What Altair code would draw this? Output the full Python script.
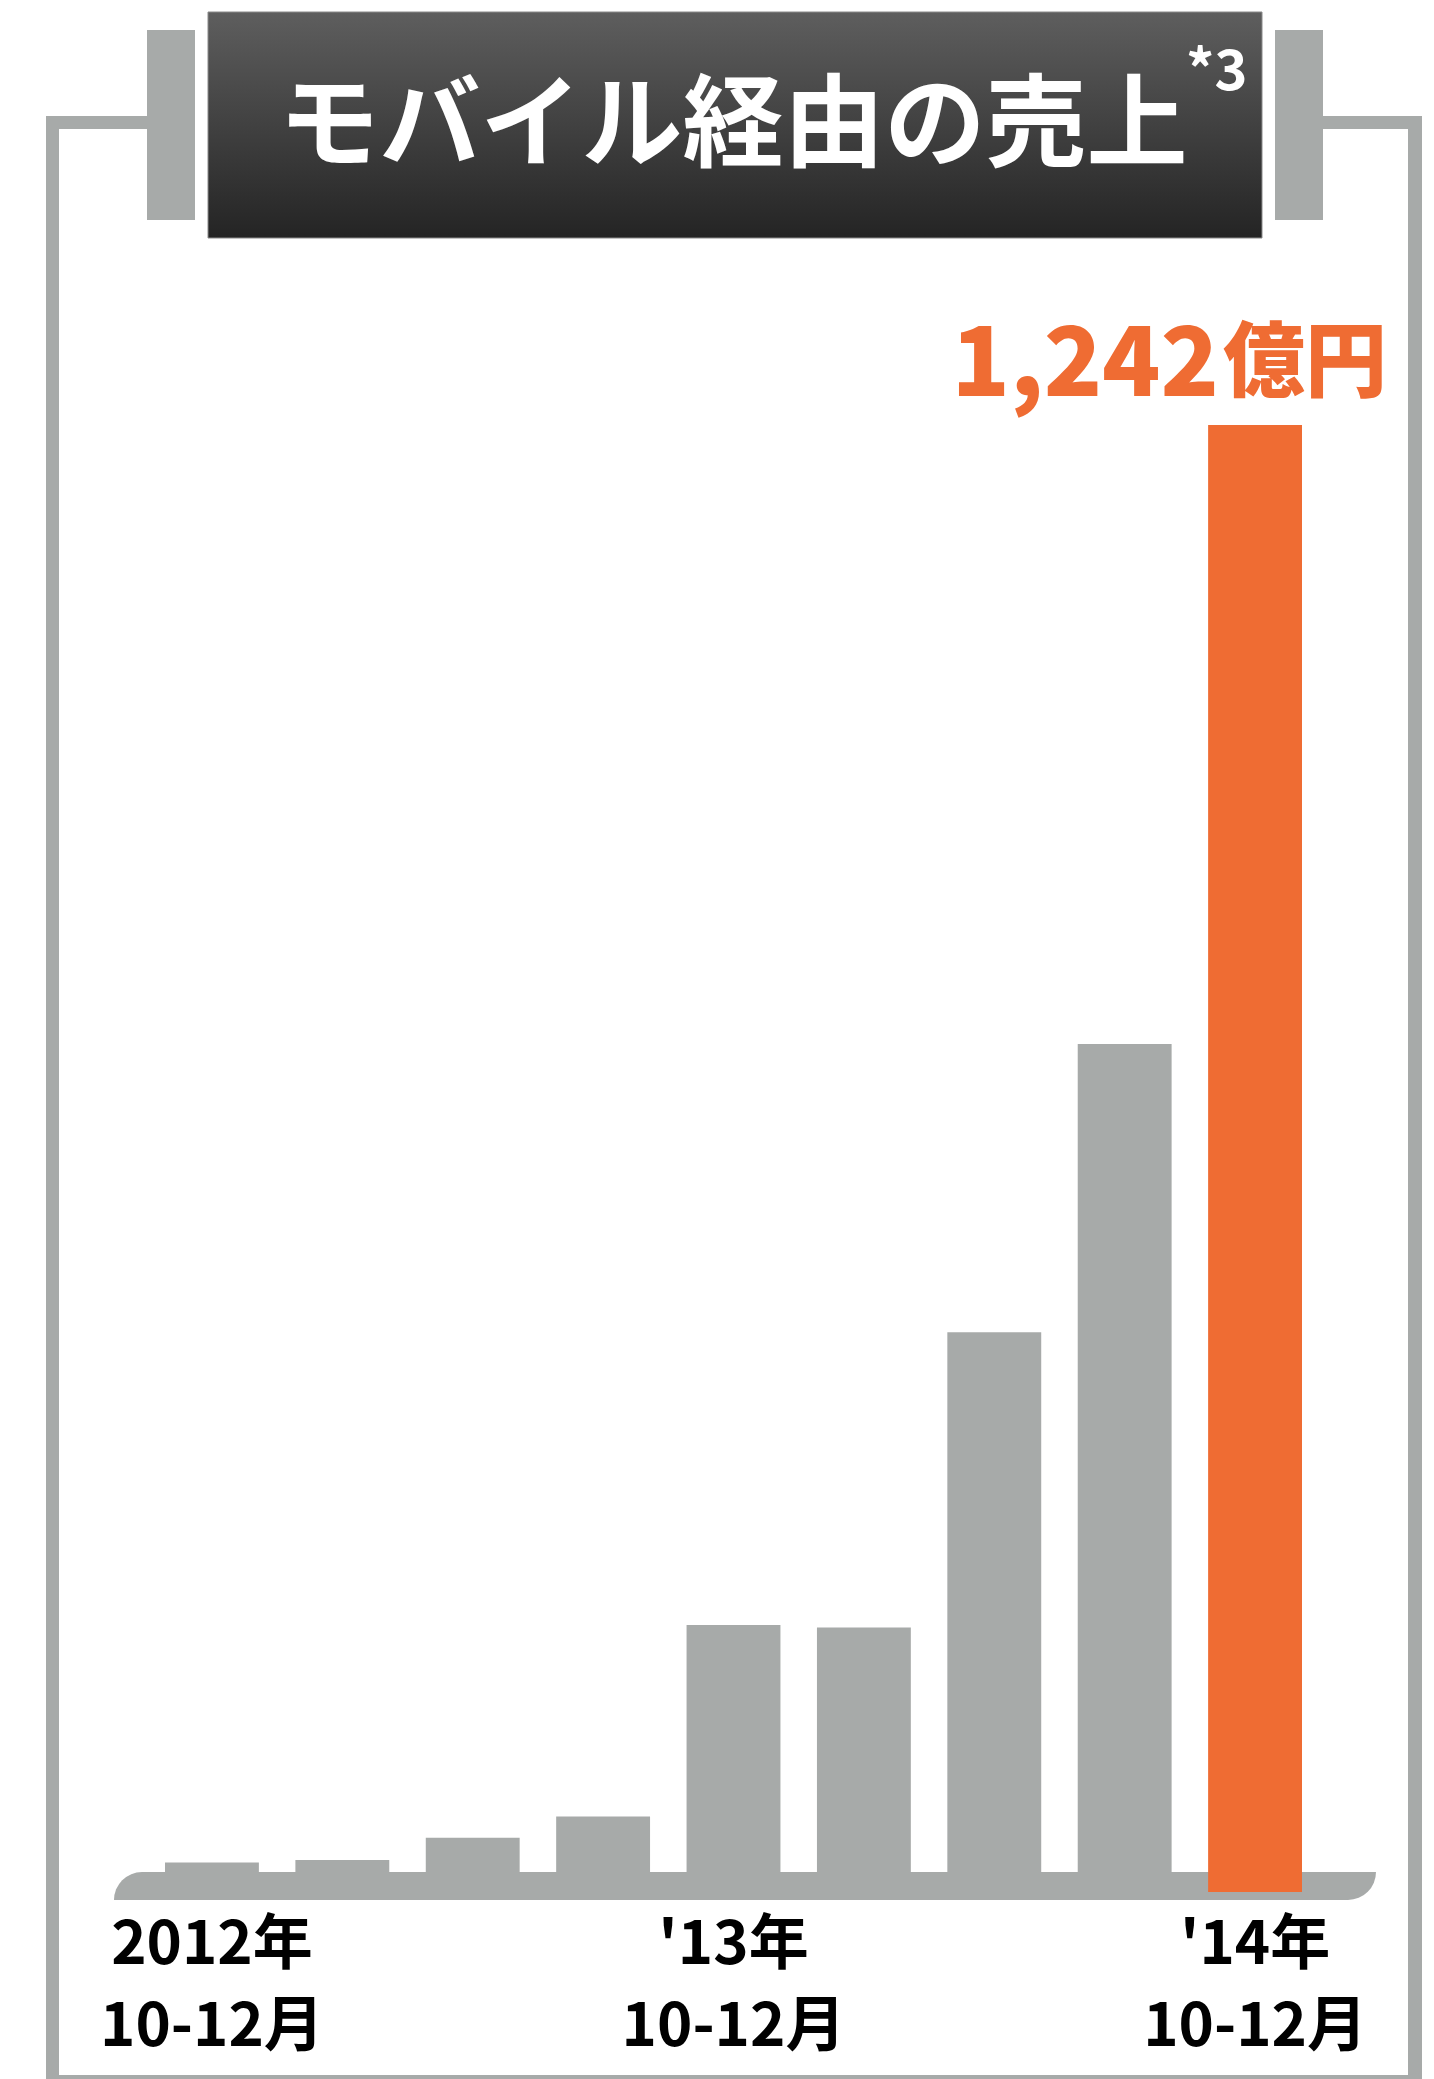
import math
import altair as alt
import pandas as pd

# ---------------- data ----------------
quarters = ["2012Q4", "2013Q1", "2013Q2", "2013Q3", "2013Q4",
            "2014Q1", "2014Q2", "2014Q3", "2014Q4"]
sales = [25, 27, 46, 64, 226, 224, 474, 718, 1242]          # 億円
highlight = [False, False, False, False, False, False, False, False, True]

label_quarters = ["2012Q4", "2013Q4", "2014Q4"]
label_year = ["2012年", "'13年", "'14年"]
label_month = ["10-12月", "10-12月", "10-12月"]

title_text = "モバイル経由の売上"
title_note = "*3"
unit_text = "億円"

# ---------------- styling ----------------
GRAY = "#a7aaa9"
ORANGE = "#ef6c33"
FONT = "Noto Sans CJK JP"
W, H = 1418, 2071
OX, OY = 8, 8


def px(x):
    return x - OX


def py(y):
    return y - OY


bars = pd.DataFrame({"quarter": quarters, "sales": sales, "highlight": highlight})
labels = pd.DataFrame({"quarter": label_quarters, "year": label_year, "month": label_month})
one = pd.DataFrame({"k": [0]})

x_scale = alt.Scale(domain=quarters, range=[px(165), px(1302)],
                    paddingInner=0.28, paddingOuter=0)
y_scale = alt.Scale(domain=[0, max(sales)], range=[py(1892), py(425)], nice=False)

X = alt.X("quarter:N", scale=x_scale, axis=None)
Y = alt.Y("sales:Q", scale=y_scale, axis=None)


def rect(x1, x2, y1, y2, **mk):
    return alt.Chart(one).mark_rect(**mk).encode(
        x=alt.value(px(x1)), x2=alt.value(px(x2)),
        y=alt.value(py(y1)), y2=alt.value(py(y2)))


def text(t, x, y, **mk):
    return alt.Chart(one).mark_text(text=t, font=FONT, **mk).encode(
        x=alt.value(px(x)), y=alt.value(py(y)))


# frame
frame = [
    rect(46, 59, 116, 2090, color=GRAY),
    rect(1408, 1422, 116, 2090, color=GRAY),
    rect(46, 147, 116, 129, color=GRAY),
    rect(1323, 1422, 116, 129, color=GRAY),
    rect(46, 1422, 2075, 2090, color=GRAY),
    rect(147, 195, 30, 220, color=GRAY),
    rect(1275, 1323, 30, 220, color=GRAY),
]

title_box = rect(208, 1262, 12, 238, fill=alt.Gradient(
    gradient="linear",
    stops=[alt.GradientStop(color="#5e5e5e", offset=0),
           alt.GradientStop(color="#242424", offset=1)],
    x1=0, x2=0, y1=0, y2=1), stroke="#8a8a8a", strokeWidth=1)

title = text(title_text, 733, 129, fontSize=101, fontWeight="bold",
             color="white", align="center", baseline="middle")
note = text(title_note, 1186, 90, fontSize=56, fontWeight="bold",
            color="white", align="left", baseline="alphabetic")

gray_bars = alt.Chart(bars).transform_filter(~alt.datum.highlight).mark_bar(
    color=GRAY).encode(x=X, y=Y, y2=alt.datum(0))

base_rect = rect(142, 1348, 1872, 1900, color=GRAY)
base_left = alt.Chart(one).mark_arc(color=GRAY).encode(
    x=alt.value(px(142)), y=alt.value(py(1900)), radius=alt.value(28),
    theta=alt.value(1.5 * math.pi), theta2=alt.value(2 * math.pi))
base_right = alt.Chart(one).mark_arc(color=GRAY).encode(
    x=alt.value(px(1348)), y=alt.value(py(1872)), radius=alt.value(28),
    theta=alt.value(0.5 * math.pi), theta2=alt.value(math.pi))

orange_bar = alt.Chart(bars).transform_filter(alt.datum.highlight).mark_bar(
    color=ORANGE).encode(x=X, y=Y, y2=alt.datum(0))

value_label = alt.Chart(bars).transform_filter(alt.datum.highlight).mark_text(
    font=FONT, fontSize=96, fontWeight=900, color=ORANGE, align="right",
    baseline="alphabetic", dx=-36, dy=-29).encode(
    x=X, y=Y, text=alt.Text("sales:Q", format=","))
unit_label = alt.Chart(bars).transform_filter(alt.datum.highlight).mark_text(
    font=FONT, fontSize=82, fontWeight=900, color=ORANGE, align="left",
    baseline="alphabetic", dx=-32, dy=-35, text=unit_text).encode(x=X, y=Y)

year_labels = alt.Chart(labels).mark_text(
    font=FONT, fontSize=60, fontWeight="bold", color="black",
    baseline="alphabetic").encode(x=X, y=alt.value(py(1964)), text="year:N")
month_labels = alt.Chart(labels).mark_text(
    font=FONT, fontSize=60, fontWeight="bold", color="black",
    baseline="alphabetic").encode(x=X, y=alt.value(py(2046)), text="month:N")

chart = alt.layer(
    *frame, title_box, title, note,
    gray_bars, base_rect, base_left, base_right, orange_bar,
    value_label, unit_label, year_labels, month_labels,
).properties(
    width=W, height=H, padding=0,
    autosize=alt.AutoSizeParams(type="none"),
    background="white",
).configure_view(stroke=None)

chart.save("out.html", embed_options={"renderer": "svg", "actions": False})
